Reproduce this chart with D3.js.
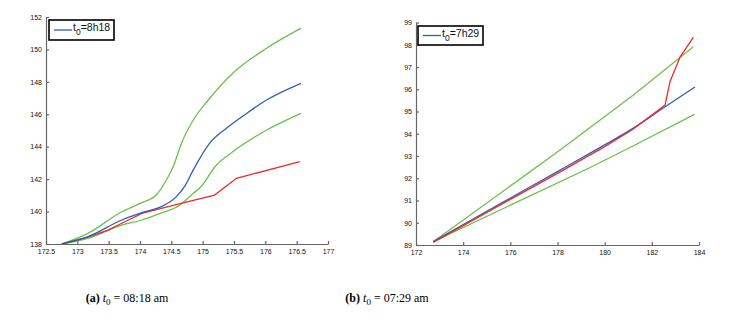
<!DOCTYPE html>
<meta charset='utf-8'>
<style>
body { margin: 0; background: #fff; }
svg { display: block; }
.axis path, .axis line { stroke: #666; stroke-width: 1.2; }
.axis text { font-family: 'Liberation Sans', Arial, sans-serif; font-size: 7px; fill: #111; }
.curve { fill: none; stroke-width: 1.3; }
.legend text { font-family: 'Liberation Sans', Arial, sans-serif; font-size: 10.5px; fill: #111; }
.caption { font-family: 'Liberation Serif', 'Times New Roman', serif; font-size: 12px; fill: #000; }
</style>
<svg width='744' height='321'></svg>
<script src='https://cdnjs.cloudflare.com/ajax/libs/d3/7.8.5/d3.min.js'></script>
<script>

// ---- panel (a): t0 = 8h18 ----
const aXTicks = [172.5, 173, 173.5, 174, 174.5, 175, 175.5, 176, 176.5, 177];
const aYTicks = [138, 140, 142, 144, 146, 148, 150, 152];

const aBlueX = [172.75, 173.17, 173.71, 174.08, 174.34, 174.58, 174.72, 174.85, 175.11, 175.38, 175.7, 176.02, 176.57];
const aBlueY = [138.0, 138.45, 139.48, 139.99, 140.3, 140.92, 141.6, 142.57, 144.21, 145.14, 146.05, 146.88, 147.91];

const aGreenHiX = [172.75, 173.17, 173.71, 174.03, 174.26, 174.42, 174.53, 174.66, 174.85, 175.09, 175.48, 176.02, 176.57];
const aGreenHiY = [138.0, 138.66, 139.99, 140.55, 141.02, 141.95, 142.77, 144.2, 145.65, 146.88, 148.53, 150.07, 151.31];

const aGreenLoX = [172.75, 173.17, 173.71, 174.03, 174.32, 174.64, 174.85, 174.95, 175.22, 175.48, 176.02, 176.57];
const aGreenLoY = [138.0, 138.35, 139.17, 139.48, 139.89, 140.41, 141.13, 141.44, 142.87, 143.69, 145.03, 146.06];

const aRedX = [172.75, 173.17, 173.49, 173.71, 174.03, 174.34, 174.56, 175.19, 175.54, 176.55];
const aRedY = [138.0, 138.43, 138.86, 139.28, 139.89, 140.2, 140.41, 141.02, 142.05, 143.08];

// ---- panel (b): t0 = 7h29 ----
const bXTicks = [172, 174, 176, 178, 180, 182, 184];
const bYTicks = [89, 90, 91, 92, 93, 94, 95, 96, 97, 98, 99];

const bBlueX = [172.73, 176, 178, 180, 181.2, 182.5, 183.83];
const bBlueY = [89.15, 91.11, 92.3, 93.5, 94.24, 95.17, 96.1];

const bGreenHiX = [172.73, 178.11, 181.22, 183.76];
const bGreenHiY = [89.15, 93.27, 95.74, 97.91];

const bGreenLoX = [172.73, 179.32, 181.2, 183.81];
const bGreenLoY = [89.15, 92.45, 93.45, 94.87];

const bRedX = [172.73, 176, 178, 180, 181.2, 182.56, 182.77, 183.2, 183.76];
const bRedY = [89.12, 91.05, 92.22, 93.42, 94.2, 95.29, 96.34, 97.46, 98.33];

const BLUE = '#2b5fb4', GREEN = '#6cc04a', RED = '#ee2a2a';

const svg = d3.select('svg');

function zip(xs, ys) { return xs.map((x, i) => [x, ys[i]]); }

function panel(opt) {
    const x = d3.scaleLinear().domain(opt.xDomain).range(opt.xRange),
        y = d3.scaleLinear().domain(opt.yDomain).range(opt.yRange);
    const g = svg.append('g');

    // matlab-ish axes: ticks pointing inward
    g.append('g')
        .attr('class', 'axis')
        .attr('transform', `translate(0,${opt.yRange[0]})`)
        .call(d3.axisBottom(x).tickValues(opt.xTicks).tickSizeInner(-3).tickSizeOuter(0).tickPadding(5).tickFormat(d3.format('')));
    g.append('g')
        .attr('class', 'axis')
        .attr('transform', `translate(${opt.xRange[0]},0)`)
        .call(d3.axisLeft(y).tickValues(opt.yTicks).tickSizeInner(-3).tickSizeOuter(0).tickPadding(4).tickFormat(d3.format('')));

    opt.series.forEach(s => {
        g.append('path')
            .attr('class', 'curve')
            .attr('stroke', s.color)
            .attr('d', d3.line().x(d => x(d[0])).y(d => y(d[1])).curve(s.curve)(zip(s.xs, s.ys)));
    });

    // legend
    const lg = g.append('g').attr('class', 'legend');
    const b = opt.legendBox;
    lg.append('rect').attr('x', b[0]).attr('y', b[1]).attr('width', b[2]).attr('height', b[3])
        .attr('fill', '#fff').attr('stroke', '#000').attr('stroke-width', 1.6);
    const my = b[1] + b[3] / 2;
    lg.append('line').attr('x1', b[0] + 5).attr('x2', b[0] + 23).attr('y1', my).attr('y2', my)
        .attr('stroke', BLUE).attr('stroke-width', 1.3);
    const t = lg.append('text').attr('x', b[0] + 24).attr('y', my + 1);
    t.append('tspan').text('t');
    t.append('tspan').attr('dy', 4).attr('font-size', '8.5px').text('0');
    t.append('tspan').attr('dy', -4).text(opt.legendText);
}

panel({
    xDomain: [172.5, 177], xRange: [46, 328],
    yDomain: [138, 152], yRange: [244, 17],
    xTicks: aXTicks, yTicks: aYTicks,
    legendBox: [49, 20, 65, 20], legendText: '=8h18',
    series: [
        { xs: aGreenHiX, ys: aGreenHiY, color: GREEN, curve: d3.curveMonotoneX },
        { xs: aGreenLoX, ys: aGreenLoY, color: GREEN, curve: d3.curveMonotoneX },
        { xs: aRedX, ys: aRedY, color: RED, curve: d3.curveLinear },
        { xs: aBlueX, ys: aBlueY, color: BLUE, curve: d3.curveMonotoneX }
    ]
});

panel({
    xDomain: [172, 184], xRange: [416, 699],
    yDomain: [89, 99], yRange: [245, 22.5],
    xTicks: bXTicks, yTicks: bYTicks,
    legendBox: [418, 26, 65, 19], legendText: '=7h29',
    series: [
        { xs: bGreenHiX, ys: bGreenHiY, color: GREEN, curve: d3.curveLinear },
        { xs: bGreenLoX, ys: bGreenLoY, color: GREEN, curve: d3.curveLinear },
        { xs: bBlueX, ys: bBlueY, color: BLUE, curve: d3.curveMonotoneX },
        { xs: bRedX, ys: bRedY, color: RED, curve: d3.curveLinear }
    ]
});

// sub-captions
function caption(xc, label, time) {
    const t = svg.append('text').attr('class', 'caption').attr('x', xc).attr('y', 302).attr('text-anchor', 'middle');
    t.append('tspan').attr('font-weight', 'bold').text(`(${label})`);
    t.append('tspan').text(' ');
    t.append('tspan').attr('font-style', 'italic').text('t');
    t.append('tspan').attr('dy', 3).attr('font-size', '9px').text('0');
    t.append('tspan').attr('dy', -3).text(` = ${time}`);
}
caption(127, 'a', '08:18 am');
caption(387, 'b', '07:29 am');
</script>
